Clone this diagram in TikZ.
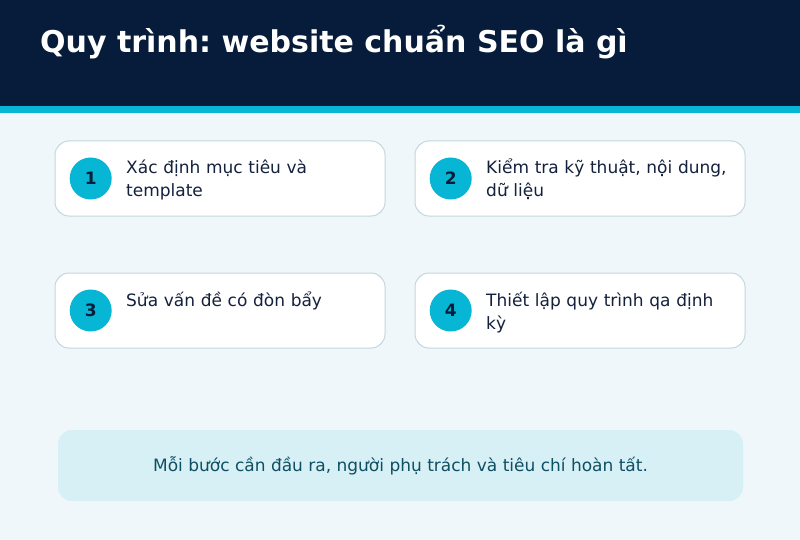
\documentclass[tikz,border=0pt]{standalone}
\usepackage{fontspec}
\setmainfont{DejaVu Sans}
\usetikzlibrary{positioning}
\definecolor{navy}{HTML}{061C3A}
\definecolor{accent}{HTML}{06B6D4}
\definecolor{pagebg}{HTML}{F0F7FA}
\definecolor{cardline}{HTML}{C3D7DE}
\definecolor{notebg}{HTML}{D7F0F6}
\definecolor{notetext}{HTML}{0E4F63}
\definecolor{steptext}{HTML}{14213D}
\frenchspacing
\hyphenpenalty=10000

\begin{document}
\begin{tikzpicture}[x=1pt,y=-1pt]
        \tikzstyle{card}=[draw=cardline, line width=1pt, fill=white, rounded corners=14pt, minimum width=330pt, minimum height=75pt]
        \tikzstyle{num}=[circle, fill=accent, minimum size=42pt, inner sep=0pt, text=navy, font=\bfseries\fontsize{17}{17}\selectfont]
        \tikzstyle{txt}=[anchor=base west, inner sep=0pt, text width=244pt, align=left, text=steptext, font=\fontsize{17}{23}\selectfont]

        \fill[pagebg] (0,0) rectangle (800,540);
        \fill[navy] (0,0) rectangle (800,106);
        \fill[accent] (0,106) rectangle (800,113);
        \node[anchor=base west, inner sep=0pt, text=white, font=\bfseries\fontsize{30}{30}\selectfont] (title) at (40,53) {Quy trình: website chuẩn SEO là gì};

        \node[card] (c1) at (220,178.5) {};
        \node[card] (c2) at (580,178.5) {};
        \node[card] (c3) at (220,310.5) {};
        \node[card] (c4) at (580,310.5) {};

        \node[num, right=15pt of c1.west] (n1) {1};
        \node[num, right=15pt of c2.west] (n2) {2};
        \node[num, right=15pt of c3.west] (n3) {3};
        \node[num, right=15pt of c4.west] (n4) {4};

        \node[txt] (t1) at (126,174) {Xác định mục tiêu và template};
        \node[txt] (t2) at (486,174) {Kiểm tra kỹ thuật, nội dung, dữ liệu};
        \node[txt] (t3) at (126,306) {Sửa vấn đề có đòn bẩy};
        \node[txt] (t4) at (486,306) {Thiết lập quy trình qa định kỳ};

        \fill[notebg, rounded corners=14pt] (58,430) rectangle (743,501);
        \node[text=notetext, font=\fontsize{17}{17}\selectfont] (note) at (400.5,465.5) {Mỗi bước cần đầu ra, người phụ trách và tiêu chí hoàn tất.};
    \end{tikzpicture}
\end{document}
